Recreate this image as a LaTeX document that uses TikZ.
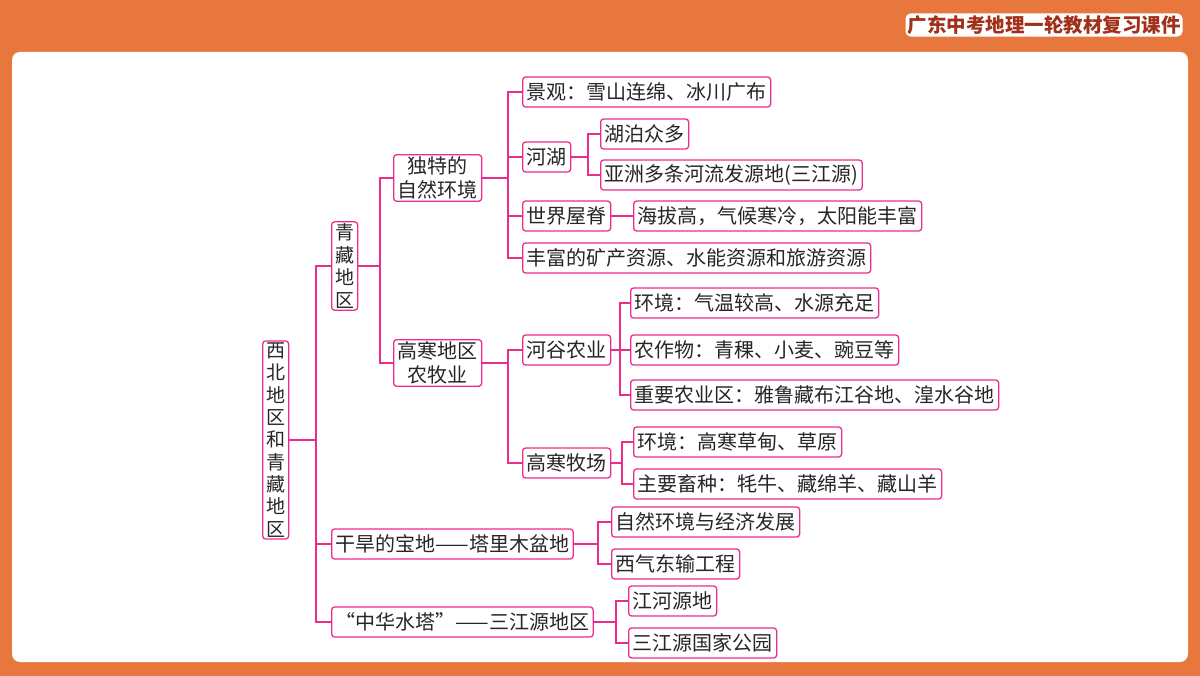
\documentclass[tikz,border=0pt]{standalone}
\usepackage{fontspec}
\setmainfont{Noto Sans CJK SC}
\begin{document}
\begin{tikzpicture}[x=1pt,y=-1pt,
 box/.style={draw=lk,line width=1.3pt,rounded corners=3pt,fill=white,anchor=west,minimum height=30pt,inner xsep=4pt,inner ysep=2pt,font=\fontsize{20}{22}\selectfont,text=black!85},
 ln/.style={draw=lk,line width=1.4pt}]
\definecolor{bgo}{HTML}{E8773E}
\definecolor{lk}{HTML}{EC2C8C}
\definecolor{ttl}{HTML}{A0301A}
\useasboundingbox (0,0) rectangle (1200,676);
\fill[bgo] (0,0) rectangle (1200,676);
\fill[white,rounded corners=8pt] (12,52) rectangle (1188,662);
\node[fill=white,rounded corners=5pt,inner sep=2pt,text=ttl,font=\fontsize{19.5}{21}\selectfont\bfseries] (title) at (1044,25) {广东中考地理一轮教材复习课件};
\node[box,align=center,text width=20pt,inner xsep=3pt,font=\fontsize{19}{22.3}\selectfont] (root) at (262,440) {西\\北\\地\\区\\和\\青\\藏\\地\\区};
\node[box,align=center,text width=20pt,inner xsep=3pt,font=\fontsize{19}{22.5}\selectfont] (qz) at (331,266) {青\\藏\\地\\区};
\node[box,align=center,font=\fontsize{20}{24}\selectfont] (dt) at (393,178) {独特的\\自然环境};
\node[box,align=center,font=\fontsize{20}{24}\selectfont] (gh) at (393,363) {高寒地区\\农牧业};
\node[box] (jg) at (522,92) {景观：雪山连绵、冰川广布};
\node[box] (hh) at (522,157) {河湖};
\node[box] (hb) at (600,134) {湖泊众多};
\node[box] (yz) at (600,175) {亚洲多条河流发源地(三江源)};
\node[box] (sj) at (522,216) {世界屋脊};
\node[box] (hg) at (633,216) {海拔高，气候寒冷，太阳能丰富};
\node[box] (ff) at (522,258) {丰富的矿产资源、水能资源和旅游资源};
\node[box] (hgn) at (522,350) {河谷农业};
\node[box] (hj1) at (630,303) {环境：气温较高、水源充足};
\node[box] (nz) at (630,350) {农作物：青稞、小麦、豌豆等};
\node[box] (zy) at (630,395) {重要农业区：雅鲁藏布江谷地、湟水谷地};
\node[box] (gm) at (522,463) {高寒牧场};
\node[box] (hj2) at (633,442) {环境：高寒草甸、草原};
\node[box] (zx) at (633,484) {主要畜种：牦牛、藏绵羊、藏山羊};
\node[box] (gd) at (331,544) {干旱的宝地——塔里木盆地};
\node[box] (zr) at (611,522) {自然环境与经济发展};
\node[box] (xq) at (611,564) {西气东输工程};
\node[box] (zh) at (331,622) {“中华水塔”——三江源地区};
\node[box] (jh) at (628,601) {江河源地};
\node[box] (sy) at (628,643) {三江源国家公园};
\foreach \p/\bx/\cs in {root/316/{qz,gd,zh}, qz/380/{dt,gh}, dt/508/{jg,hh,sj,ff}, hh/588/{hb,yz}, gh/508/{hgn,gm}, hgn/620/{hj1,nz,zy}, gm/622/{hj2,zx}, gd/598/{zr,xq}, zh/616/{jh,sy}}
  \foreach \c in \cs {\coordinate (bb) at (\bx,0); \draw[ln] (\p.east) -- (\p.east -| bb) |- (\c.west);}
\draw[ln] (sj) -- (hg);
\end{tikzpicture}
\end{document}
